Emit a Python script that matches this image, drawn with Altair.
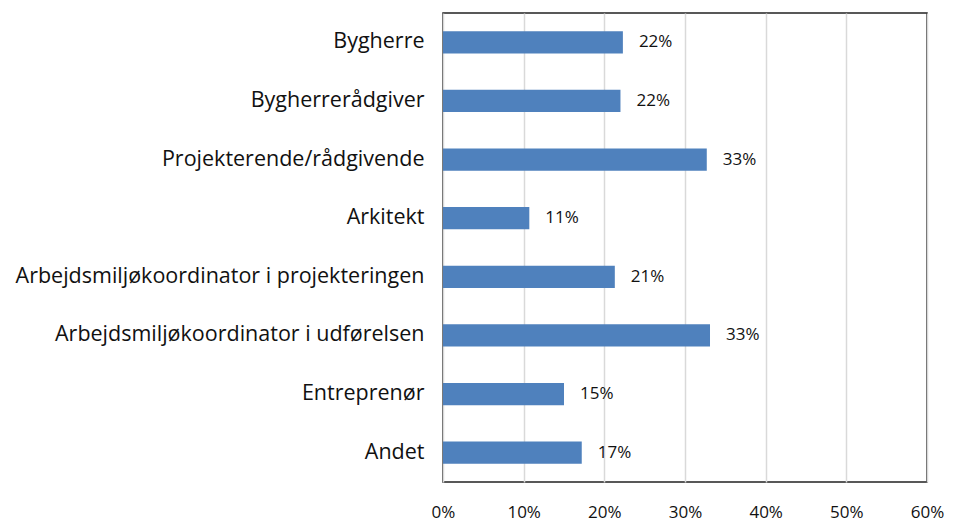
import altair as alt
import pandas as pd

categories = [
    "Bygherre",
    "Bygherrerådgiver",
    "Projekterende/rådgivende",
    "Arkitekt",
    "Arbejdsmiljøkoordinator i projekteringen",
    "Arbejdsmiljøkoordinator i udførelsen",
    "Entreprenør",
    "Andet",
]
values = [0.223, 0.220, 0.327, 0.107, 0.213, 0.331, 0.150, 0.172]

df = pd.DataFrame({"kategori": categories, "andel": values})

FONT = "Open Sans"

base = alt.Chart(df).encode(
    y=alt.Y("kategori:N", sort=categories, title=None,
            scale=alt.Scale(paddingInner=0.62, paddingOuter=0.31),
            axis=alt.Axis(labelFontSize=21.5, labelFont=FONT, labelColor="#111",
                          labelPadding=19, ticks=False, domain=False, labelLimit=600)),
)

bars = base.mark_bar(color="#4F81BD").encode(
    x=alt.X("andel:Q", title=None,
            scale=alt.Scale(domain=[0, 0.6], nice=False),
            axis=alt.Axis(format=".0%", values=[0, 0.1, 0.2, 0.3, 0.4, 0.5, 0.6],
                          labelFontSize=17, labelFont=FONT, labelColor="#111",
                          labelPadding=22, ticks=False, domain=False,
                          grid=True, gridColor="#d9d9d9", gridWidth=1.5,
                          labelFlush=False)),
)

labels = base.mark_text(align="left", baseline="middle", dx=16, fontSize=17,
                        font=FONT, color="#111").encode(
    x="andel:Q",
    text=alt.Text("andel:Q", format=".0%"),
)

chart = (bars + labels).properties(
    width=484, height=469,
    autosize=alt.AutoSizeParams(type="none"),
    padding={"left": 435, "top": 5, "right": 19, "bottom": 40},
).configure_view(stroke="#222", strokeWidth=1.5)

chart.save("out.html", embed_options={"renderer": "svg", "actions": False})
